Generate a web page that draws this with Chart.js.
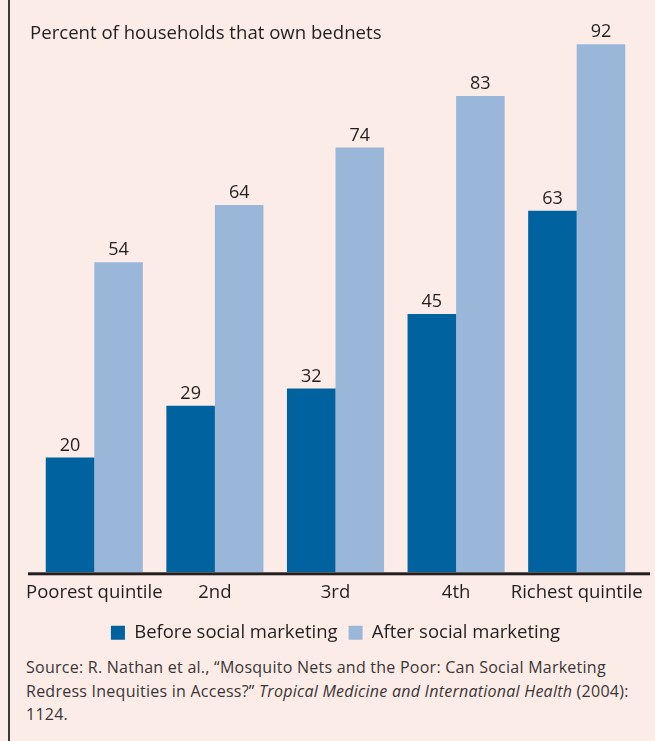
<!DOCTYPE html>
<html>
<head>
<meta charset="utf-8">
<script src="https://cdn.jsdelivr.net/npm/chart.js@4/dist/chart.umd.min.js"></script>
<style>
  html, body { margin: 0; padding: 0; }
  body { width: 655px; height: 741px; background: #fbece7; position: relative; overflow: hidden;
         font-family: "Open Sans", sans-serif; color: #231f20; }
  #frame { position: absolute; left: 8px; top: 0; width: 2px; height: 741px; background: #3a3a3a; }
  #title { position: absolute; left: 30px; top: 19px; font-size: 18.6px; }
  #wrap { position: absolute; left: 0; top: 0; width: 655px; height: 652px; }
  #source { position: absolute; left: 26px; top: 656px; font-size: 16px; letter-spacing: 0.25px;
            line-height: 23.5px; color: #3a3536; }
</style>
</head>
<body>
<div id="frame"></div>
<div id="wrap"><canvas id="chart"></canvas></div>
<div id="title">Percent of households that own bednets</div>
<div id="source">Source: R. Nathan et al., “Mosquito Nets and the Poor: Can Social Marketing<br>Redress Inequities in Access?” <i>Tropical Medicine and International Health</i> (2004):<br>1124.</div>
<script>
'use strict';

// Data
const quintiles = ['Poorest quintile', '2nd', '3rd', '4th', 'Richest quintile'];
const beforeValues = [20, 29, 32, 45, 63];
const afterValues = [54, 64, 74, 83, 92];
const seriesNames = ['Before social marketing', 'After social marketing'];

const DARK = '#0063a0';
const LIGHT = '#9ab7da';
const INK = '#231f20';
const FONT = '"Open Sans", sans-serif';

// value labels above each bar + extended baseline
const barLabels = {
    id: 'barLabels',
    afterDatasetsDraw(chart) {
        const ctx = chart.ctx;
        const area = chart.chartArea;
        ctx.save();
        // baseline rule (runs slightly past the plot area, as in the original)
        ctx.fillStyle = INK;
        ctx.fillRect(area.left - 6, area.bottom, area.right - area.left + 19, 3);
        ctx.font = '18px ' + FONT;
        ctx.textAlign = 'center';
        ctx.textBaseline = 'alphabetic';
        chart.data.datasets.forEach((ds, di) => {
            const meta = chart.getDatasetMeta(di);
            meta.data.forEach((bar, i) => {
                ctx.fillText(String(ds.data[i]), bar.x, bar.y - 7);
            });
        });
        ctx.restore();
    }
};

const ctx = document.getElementById('chart').getContext('2d');
new Chart(ctx, {
    type: 'bar',
    data: {
        labels: quintiles,
        datasets: [
            { label: seriesNames[0], data: beforeValues, backgroundColor: DARK },
            { label: seriesNames[1], data: afterValues, backgroundColor: LIGHT }
        ]
    },
    options: {
        responsive: true,
        maintainAspectRatio: false,
        animation: false,
        layout: { padding: { left: 34, right: 18, top: 27, bottom: 0 } },
        datasets: { bar: { categoryPercentage: 0.805, barPercentage: 1.0, borderWidth: 0 } },
        scales: {
            x: {
                grid: { display: false, drawTicks: false },
                border: { display: false },
                ticks: {
                    color: INK, font: { family: FONT, size: 18.5 }, padding: 9,
                    maxRotation: 0, minRotation: 0, autoSkip: false
                }
            },
            y: { display: false, min: 0, max: 95 }
        },
        plugins: {
            legend: {
                position: 'bottom',
                labels: {
                    color: INK,
                    boxWidth: 14,
                    boxHeight: 14,
                    padding: 11,
                    font: { family: FONT, size: 18.5 }
                }
            },
            tooltip: { enabled: false }
        }
    },
    plugins: [barLabels]
});
</script>
</body>
</html>
